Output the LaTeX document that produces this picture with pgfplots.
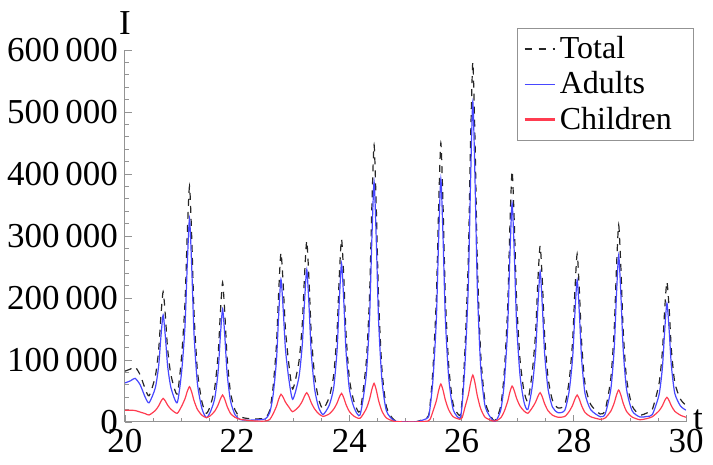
\documentclass[border=0pt]{standalone}
\usepackage{fontspec}
\setmainfont{Liberation Serif}
\usepackage{pgfplots}
\usepackage{pgfplotstable}
\pgfplotsset{compat=1.18}
\definecolor{adultblue}{rgb}{0.28,0.28,1.0}
\definecolor{kidcolor}{RGB}{255,60,80}
\definecolor{totalgray}{rgb}{0.15,0.15,0.15}
\pgfplotstableread{
t T A C
20.00 82000 63000 19000
20.10 85500 66500 19000
20.18 88900 70400 18500
20.27 76000 60000 16000
20.36 53500 40000 13500
20.43 42300 31000 11300
20.54 73500 55000 18500
20.60 116500 90500 26000
20.64 170400 137200 33200
20.68 210000 172600 38000
20.72 170900 137200 33700
20.76 117700 90500 27200
20.82 75500 55000 20500
20.93 45000 31000 14000
21.01 107100 81500 25600
21.07 193350 155700 37650
21.11 303010 253750 49260
21.15 380000 328000 57000
21.19 296150 248150 48000
21.23 177250 142750 34500
21.29 83400 62900 20500
21.37 33000 22000 11000
21.45 14000 7000 7000
21.52 26000 16000 10000
21.60 55600 38100 17500
21.66 108900 81400 27500
21.70 175650 138650 37000
21.74 225000 182000 43500
21.78 173700 137500 36200
21.82 104100 78800 25300
21.88 48200 34300 13900
21.96 19500 12000 7500
22.05 8500 4000 4500
22.20 5500 3000 2500
22.35 5000 3500 1500
22.50 6500 5000 1500
22.58 19000 15000 4000
22.64 56450 43250 13200
22.70 124760 99500 25260
22.74 210650 173750 36900
22.78 273000 230000 44700
22.82 221290 181650 39640
22.86 149855 117800 32055
22.92 93690 69500 24190
22.99 53200 36600 16600
23.10 97090 72200 24890
23.16 158035 124550 33485
23.20 235420 193650 41770
23.24 292000 246000 47300
23.28 228820 188000 40820
23.32 142500 111400 31100
23.38 74460 53440 21020
23.45 37500 24000 13500
23.53 21000 12000 9000
23.64 40000 27000 13000
23.72 75860 55140 20720
23.78 146140 115640 30500
23.82 235400 195500 39900
23.86 295000 256000 46200
23.90 233760 194800 38960
23.94 142210 114100 28110
24.00 69750 52900 16850
24.08 33500 24000 9500
24.19 17300 11300 6000
24.30 96500 75270 21230
24.36 206320 169300 37020
24.40 345750 293500 52250
24.44 447000 387600 62400
24.48 342550 291200 51350
24.52 198720 163950 34770
24.58 85130 67550 17580
24.66 24500 18000 6500
24.80 3000 2000 1000
25.00 400 300 100
25.20 700 500 200
25.40 8500 7000 1500
25.44 29500 25000 4500
25.49 86080 68800 17280
25.55 199705 165540 34165
25.59 343700 293250 50450
25.63 450000 392000 61300
25.67 346540 295500 51040
25.71 203750 168100 35650
25.77 91290 71600 19690
25.85 28500 20000 8500
25.97 10300 6000 4300
26.01 36000 29000 7000
26.06 116400 92800 23600
26.12 264050 220450 43600
26.16 451880 388950 62930
26.20 580000 516600 75800
26.24 450380 387950 62430
26.28 260495 218130 42365
26.34 111060 89500 21560
26.42 32500 25000 7500
26.56 3500 2000 1500
26.62 5000 3000 2000
26.70 27000 20000 7000
26.76 79550 62450 17100
26.82 182700 149900 32800
26.86 313200 265300 47900
26.90 405000 352700 58000
26.94 319580 269500 50080
26.98 197900 159700 38200
27.04 102440 76560 25880
27.11 51000 33000 18000
27.18 34000 20000 14000
27.26 80800 57800 23000
27.32 145700 113400 32300
27.36 228100 186800 41300
27.40 284000 242400 47300
27.44 225700 185550 40150
27.48 139935 110500 29435
27.54 71980 53660 18320
27.62 35000 24000 11000
27.72 22600 15000 7600
27.84 28000 19000 9000
27.92 68700 51400 17300
27.98 132245 104900 27345
28.02 212540 175500 37040
28.06 271000 229000 43500
28.10 210470 173900 36570
28.14 127345 101170 26175
28.20 61470 46070 15400
28.30 28500 20000 8500
28.47 12900 8600 4300
28.56 19500 13000 6500
28.66 70450 52870 17580
28.72 148600 117970 30630
28.76 247100 203900 43200
28.80 317700 269000 51600
28.84 247020 203900 43120
28.88 148370 117970 30400
28.94 70070 52870 17200
29.04 26000 18000 8000
29.18 11600 8000 3600
29.30 14500 9000 5500
29.40 20500 12000 8500
29.52 62210 44160 18050
29.58 114900 88500 26400
29.62 181490 147050 34440
29.66 226000 191400 39800
29.70 181960 147700 34260
29.74 115940 90000 25940
29.80 63600 46300 17300
29.90 37000 26000 11000
30.00 26600 19000 7600
}\datatable
\begin{document}
\begin{tikzpicture}
\begin{axis}[
  scale only axis,
  width=280.5pt, height=186pt,
  xmin=20, xmax=30, ymin=0, ymax=600000,
  axis lines=left,
  axis line style={draw=gray!85, line width=0.5pt, -},
  tick align=inside,
  major tick length=3.5pt, minor tick length=2pt,
  tick style={gray!85, line width=0.4pt},
  xtick={20,22,24,26,28,30}, minor x tick num=3,
  xticklabels={20,22,24,26,28,30},
  ytick={0,100000,200000,300000,400000,500000,600000}, minor y tick num=4,
  yticklabels={0,100\,000,200\,000,300\,000,400\,000,500\,000,600\,000},
  scaled y ticks=false,
  ticklabel style={font=\fontsize{17.5}{20}\selectfont},
  xlabel={t}, ylabel={I},
  every axis x label/.style={at={(rel axis cs:1,0)}, anchor=base west, xshift=0pt, yshift=-4pt, font=\fontsize{17.5}{20}\selectfont},
  every axis y label/.style={at={(rel axis cs:0,1)}, anchor=south, yshift=4pt, font=\fontsize{17.5}{20}\selectfont},
  clip mode=individual,
  legend cell align=left,
  legend style={draw=gray!85, fill=white, line width=0.5pt,
    font=\fontsize{16}{18}\selectfont,
    at={(rel axis cs:0.699,1.059)}, anchor=north west,
    inner xsep=3pt, inner ysep=2pt, row sep=1pt},
]
\addlegendimage{legend image code/.code={\draw[totalgray, line width=0.75pt, dash pattern=on 3.5pt off 3.5pt] (1pt,0pt) -- (16pt,0pt);}}
\addlegendentry{Total}
\addlegendimage{legend image code/.code={\draw[adultblue, line width=0.8pt] (1pt,0pt) -- (16pt,0pt);}}
\addlegendentry{Adults}
\addlegendimage{legend image code/.code={\draw[kidcolor, line width=1.1pt] (1pt,0pt) -- (16pt,0pt);}}
\addlegendentry{Children\hspace*{6pt}}
\addplot[forget plot, color=totalgray, line width=0.6pt, dash pattern=on 3.5pt off 3pt, smooth, tension=0.4] table[x=t, y=T] {\datatable};
\addplot[forget plot, color=adultblue, line width=0.6pt, smooth, tension=0.4] table[x=t, y=A] {\datatable};
\addplot[forget plot, color=kidcolor, line width=0.6pt, smooth, tension=0.4] table[x=t, y=C] {\datatable};
\end{axis}
\pgfresetboundingbox
\path (-62.5pt,-21.5pt) rectangle (294pt,211pt);
\end{tikzpicture}
\end{document}
